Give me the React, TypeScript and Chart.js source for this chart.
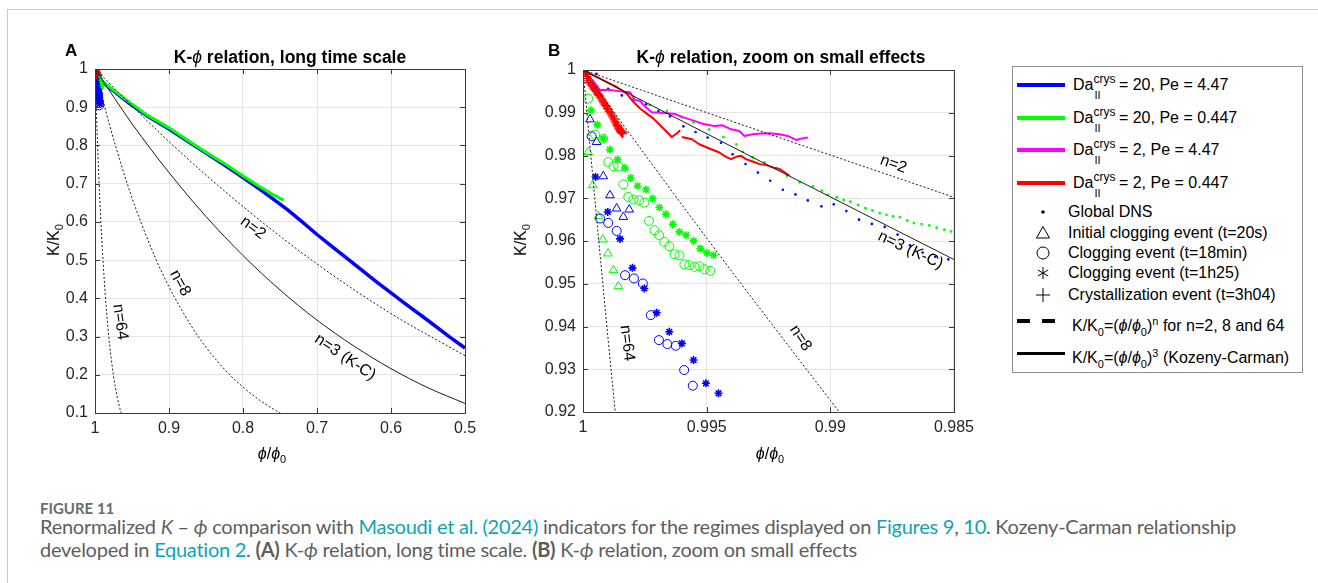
import React, { useEffect, useRef } from "react";
import { Chart, registerables } from "chart.js";

Chart.register(...registerables);

// ================= DATA =================
// Panel A reference curves K/K0 = (phi/phi0)^n
const phiA_n2 = [1, 0.9, 0.8, 0.7, 0.6, 0.5];
const kA_n2 = [1, 0.81, 0.64, 0.49, 0.36, 0.25];
const phiA_n3 = [1, 0.95, 0.9, 0.85, 0.8, 0.75, 0.7, 0.65, 0.6, 0.55, 0.5];
const kA_n3 = [1, 0.857, 0.729, 0.614, 0.512, 0.422, 0.343, 0.275, 0.216, 0.166, 0.125];
const phiA_n8 = [1, 0.98, 0.95, 0.92, 0.9, 0.87, 0.85, 0.82, 0.8, 0.78, 0.75, 0.72];
const kA_n8 = [1, 0.851, 0.663, 0.513, 0.43, 0.328, 0.272, 0.204, 0.168, 0.137, 0.1, 0.072];
const phiA_n64 = [1, 0.998, 0.995, 0.992, 0.99, 0.985, 0.98, 0.975, 0.97, 0.965, 0.96];
const kA_n64 = [1, 0.88, 0.726, 0.598, 0.526, 0.38, 0.275, 0.198, 0.142, 0.102, 0.074];

// Panel A global DNS curves
const phiA_blue = [1, 0.995, 0.99, 0.97, 0.95, 0.93, 0.9, 0.87, 0.85, 0.82, 0.8, 0.78, 0.76, 0.74, 0.72, 0.7, 0.68, 0.65, 0.62, 0.6, 0.58, 0.55, 0.52, 0.5];
const kA_blue = [1, 0.984, 0.966, 0.935, 0.905, 0.878, 0.843, 0.805, 0.78, 0.742, 0.716, 0.689, 0.661, 0.632, 0.6, 0.567, 0.536, 0.49, 0.444, 0.414, 0.385, 0.342, 0.298, 0.27];
const phiA_green = [1, 0.995, 0.99, 0.97, 0.95, 0.93, 0.9, 0.87, 0.85, 0.82, 0.8, 0.78, 0.76, 0.745];
const kA_green = [1, 0.985, 0.968, 0.937, 0.908, 0.88, 0.846, 0.807, 0.782, 0.746, 0.72, 0.695, 0.672, 0.657];

// Panel B reference curves
const phiB_n2 = [1, 0.9925, 0.985];
const kB_n2 = [1, 0.98506, 0.97023];
const phiB_n3 = [1, 0.9925, 0.985];
const kB_n3 = [1, 0.97767, 0.95567];
const phiB_n8 = [1, 0.995, 0.99, 0.989];
const kB_n8 = [1, 0.9607, 0.92274, 0.91531];
const phiB_n64 = [1, 0.9995, 0.999, 0.9985];
const kB_n64 = [1, 0.96851, 0.93798, 0.9084];

// Global DNS dots (panel B)
const phiDnsBlue = [1, 0.99945, 0.99898, 0.99843, 0.99796, 0.99745, 0.99695, 0.99648, 0.99594, 0.99545, 0.99496, 0.99442, 0.99395, 0.99343, 0.99293, 0.99243, 0.99192, 0.99141, 0.99091, 0.99036, 0.98986, 0.98935, 0.98884, 0.98832, 0.9878, 0.98728, 0.98678, 0.98627, 0.98576, 0.98523];
const kDnsBlue = [1, 0.99914, 0.99563, 0.99406, 0.99305, 0.99196, 0.9904, 0.98916, 0.98682, 0.9855, 0.9842, 0.983, 0.9803, 0.978, 0.976, 0.9741, 0.972, 0.9709, 0.9695, 0.9681, 0.9686, 0.967, 0.965, 0.964, 0.9633, 0.9615, 0.959, 0.9573, 0.9563, 0.9557];
const phiDnsGreen = [1, 0.99945, 0.9987, 0.99796, 0.9973, 0.99661, 0.996, 0.99553, 0.9949, 0.99432, 0.9938, 0.99354, 0.99314, 0.99266, 0.99219, 0.99176, 0.99124, 0.9907, 0.99034, 0.99009, 0.98973, 0.98946, 0.98919, 0.98888, 0.98858, 0.9883, 0.988, 0.98773, 0.98746, 0.98719, 0.98689, 0.98662, 0.98631, 0.986, 0.9857, 0.98539, 0.98512];
const kDnsGreen = [1, 0.9984, 0.9962, 0.9933, 0.9918, 0.9904, 0.9889, 0.9878, 0.9861, 0.9843, 0.9826, 0.98085, 0.97953, 0.97837, 0.97698, 0.97527, 0.97372, 0.97279, 0.97178, 0.97078, 0.97023, 0.96961, 0.96922, 0.96845, 0.96767, 0.96713, 0.96651, 0.96612, 0.96574, 0.96558, 0.96481, 0.96419, 0.96395, 0.96364, 0.9631, 0.96264, 0.96225];

// Da=2 curves
const phiMagenta = [1, 0.9996, 0.99931, 0.9989, 0.9985, 0.9981, 0.9979, 0.9977, 0.9975, 0.99722, 0.9969, 0.99668, 0.99628, 0.99594, 0.99553, 0.99513, 0.99469, 0.99435, 0.99401, 0.99368, 0.99347, 0.99314, 0.9928, 0.99246, 0.99205, 0.99172, 0.99138, 0.99118, 0.99091];
const kMagenta = [1, 0.9975, 0.9953, 0.9953, 0.995, 0.9948, 0.993, 0.9928, 0.9915, 0.9901, 0.99, 0.98993, 0.9897, 0.98892, 0.98815, 0.98736, 0.9869, 0.98705, 0.98612, 0.98574, 0.98457, 0.98496, 0.98512, 0.98519, 0.98496, 0.98457, 0.98364, 0.98395, 0.98419];
const phiRed = [1, 0.99985, 0.99931, 0.99864, 0.99823, 0.99796, 0.99769, 0.99742, 0.99715, 0.99688, 0.99661, 0.99641, 0.9962, 0.99607, 0.99603, 0.996, 0.9956, 0.9953, 0.99489, 0.99449, 0.99422, 0.99401, 0.99381, 0.99361, 0.99341, 0.99314, 0.99286, 0.99259, 0.99232, 0.99205, 0.99185, 0.99165];
const kRed = [1, 0.9995, 0.998, 0.996, 0.99446, 0.9925, 0.991, 0.98979, 0.98862, 0.98706, 0.9855, 0.98432, 0.9852, 0.98589, null, 0.98432, 0.9838, 0.98264, 0.98163, 0.9807, 0.97969, 0.97915, 0.97969, 0.97992, 0.97915, 0.9786, 0.97798, 0.97775, 0.97721, 0.97682, 0.97605, 0.97527];

// Event markers
const phiTriGreen = [1, 0.99979, 0.99961, 0.99938, 0.9992, 0.99899, 0.99877, 0.99857];
const kTriGreen = [1, 0.98082, 0.97304, 0.96579, 0.96035, 0.95708, 0.95318, 0.94944];
const phiTriBlue = [0.99972, 0.99945, 0.99918, 0.99891, 0.99864, 0.99837, 0.99813];
const kTriBlue = [0.98846, 0.98316, 0.97514, 0.9707, 0.9676, 0.96563, 0.96736];
const phiCircGreen = [1, 0.99979, 0.99951, 0.99918, 0.99898, 0.99877, 0.99857, 0.99837, 0.99817, 0.99796, 0.99773, 0.99752, 0.99733, 0.99711, 0.99692, 0.99671, 0.99651, 0.9963, 0.9961, 0.9959, 0.9957, 0.99549, 0.99529, 0.99509, 0.99486];
const kCircGreen = [1, 0.99329, 0.98488, 0.98394, 0.97848, 0.97748, 0.97748, 0.97327, 0.9703, 0.96969, 0.96953, 0.969, 0.9647, 0.96252, 0.96136, 0.95979, 0.95879, 0.95692, 0.95668, 0.95451, 0.95435, 0.95396, 0.95411, 0.95341, 0.95302];
const phiCircBlue = [0.99965, 0.99931, 0.99898, 0.99864, 0.9983, 0.99794, 0.99758, 0.99726, 0.99693, 0.99659, 0.99625, 0.99591, 0.99556, 0.9952, 0.9948, 0.9944];
const kCircBlue = [0.98449, 0.96526, 0.96423, 0.96236, 0.95201, 0.95124, 0.95007, 0.94266, 0.93682, 0.93589, 0.93549, 0.92981, 0.92615, 0.9175, 0.911, 0.905];
const phiStarGreen = [0.99968, 0.99942, 0.99918, 0.99891, 0.9986, 0.9983, 0.99807, 0.99779, 0.99745, 0.99719, 0.99691, 0.99665, 0.99637, 0.9961, 0.99583, 0.99553, 0.99526, 0.99499, 0.99472];
const kStarGreen = [0.99056, 0.98722, 0.98394, 0.98138, 0.97904, 0.97708, 0.97474, 0.97287, 0.97203, 0.96993, 0.96783, 0.96626, 0.96393, 0.96213, 0.96136, 0.96002, 0.95825, 0.95722, 0.95668];
const phiStarBlue = [0.99949, 0.999, 0.9985, 0.998, 0.99752, 0.99702, 0.99651, 0.996, 0.99553, 0.99503, 0.99452, 0.994, 0.9935];
const kStarBlue = [0.97498, 0.9668, 0.96049, 0.95372, 0.9489, 0.9432, 0.93876, 0.93605, 0.93215, 0.92671, 0.92437, 0.917, 0.909];
const phiPlusRed = [1, 0.99995, 0.9999, 0.99988, 0.99985, 0.99982, 0.99978, 0.99975, 0.9997, 0.99965, 0.99961, 0.99958, 0.99954, 0.9995, 0.99946, 0.99942, 0.99938, 0.99935, 0.99931, 0.99927, 0.99923, 0.9992, 0.99916, 0.99912, 0.99908, 0.99905, 0.99901, 0.99898, 0.99894, 0.9989, 0.99886, 0.99883, 0.9988, 0.99876, 0.99873, 0.9987, 0.99867, 0.99864, 0.99861, 0.99858, 0.99855, 0.99853, 0.9985, 0.99848, 0.99845, 0.99843, 0.9984, 0.99838, 0.99842, 0.99846];
const kPlusRed = [1, 0.9997, 0.9994, 0.999, 0.9985, 0.998, 0.9975, 0.9971, 0.9968, 0.9965, 0.9962, 0.9958, 0.9955, 0.9953, 0.995, 0.9946, 0.9943, 0.994, 0.9937, 0.9934, 0.993, 0.9927, 0.9923, 0.992, 0.9917, 0.9914, 0.991, 0.9907, 0.9903, 0.99, 0.9897, 0.9893, 0.989, 0.9886, 0.9883, 0.9879, 0.9876, 0.9873, 0.987, 0.9867, 0.9864, 0.9861, 0.9858, 0.9856, 0.9854, 0.9852, 0.9851, 0.9853, 0.9856, 0.9859];

// Curve labels (text, phi, K, angle in degrees)
const labelsA = [
  { text: "n=2", phi: 0.7865, k: 0.584, angle: 37 },
  { text: "n=3 (K-C)", phi: 0.662, k: 0.246, angle: 34 },
  { text: "n=8", phi: 0.885, k: 0.44, angle: 62 },
  { text: "n=64", phi: 0.966, k: 0.338, angle: 82 },
];
const labelsB = [
  { text: "n=2", phi: 0.98745, k: 0.97794, angle: 20 },
  { text: "n=3 (K-C)", phi: 0.98676, k: 0.95785, angle: 25 },
  { text: "n=8", phi: 0.99121, k: 0.93724, angle: 57 },
  { text: "n=64", phi: 0.99822, k: 0.93612, angle: 83 },
];

// ================= STYLE / HELPERS =================
const BLUE = "#0000ff";
const GREEN = "#00ff00";
const MAGENTA = "#ff00ff";
const RED = "#ff0000";
const FONT = '"Liberation Sans", Arial, Helvetica, sans-serif';
const PHI = "\u03D5";

const zip = (xs: number[], ys: (number | null)[]) => xs.map((x, i) => ({ x, y: ys[i] }));

const curve = (xs: number[], ys: number[], solid: boolean) => ({
  data: zip(xs, ys),
  showLine: true,
  borderColor: "#1a1a1a",
  borderWidth: 1,
  borderDash: solid ? [] : [2, 2],
  pointRadius: 0,
  cubicInterpolationMode: "monotone",
});
const line = (xs: number[], ys: (number | null)[], color: string, w: number) => ({
  data: zip(xs, ys),
  showLine: true,
  borderColor: color,
  borderWidth: w,
  pointRadius: 0,
  spanGaps: false,
  borderJoinStyle: "round",
});
const marks = (xs: number[], ys: number[], color: string, style: string, r: number, bw: number, filled = false) => ({
  data: zip(xs, ys),
  showLine: false,
  pointStyle: style,
  pointRadius: r,
  pointBorderColor: color,
  pointBackgroundColor: filled ? color : "rgba(0,0,0,0)",
  pointBorderWidth: bw,
});

const eventMarks = () => [
  marks(phiPlusRed, kPlusRed, RED, "cross", 4.5, 1.1),
  marks(phiStarBlue, kStarBlue, BLUE, "star", 4, 1.6),
  marks(phiStarGreen, kStarGreen, GREEN, "star", 4, 1.6),
  marks(phiCircBlue, kCircBlue, BLUE, "circle", 4.5, 1),
  marks(phiCircGreen, kCircGreen, GREEN, "circle", 4.5, 1),
  marks(phiTriBlue, kTriBlue, BLUE, "triangle", 5, 1),
  marks(phiTriGreen, kTriGreen, GREEN, "triangle", 5, 1),
];

const fmt = (v: number) => String(parseFloat(Number(v).toFixed(4)));

const framePlugin = {
  id: "frame",
  afterDatasetsDraw(chart: any, _args: any, opts: any) {
    const { ctx, chartArea: a, scales } = chart;
    ctx.save();
    ctx.strokeStyle = "#3a3a3a";
    ctx.lineWidth = 1;
    const L = 5;
    ctx.beginPath();
    scales.x.ticks.forEach((t: any) => {
      const x = Math.round(scales.x.getPixelForValue(t.value)) + 0.5;
      ctx.moveTo(x, a.bottom); ctx.lineTo(x, a.bottom - L);
      ctx.moveTo(x, a.top); ctx.lineTo(x, a.top + L);
    });
    scales.y.ticks.forEach((t: any) => {
      const y = Math.round(scales.y.getPixelForValue(t.value)) + 0.5;
      ctx.moveTo(a.left, y); ctx.lineTo(a.left + L, y);
      ctx.moveTo(a.right, y); ctx.lineTo(a.right - L, y);
    });
    ctx.stroke();
    ctx.strokeRect(Math.round(a.left) + 0.5, Math.round(a.top) + 0.5, Math.round(a.right - a.left), Math.round(a.bottom - a.top));
    (opts.labels || []).forEach((l: any) => {
      const x = scales.x.getPixelForValue(l.phi);
      const y = scales.y.getPixelForValue(l.k);
      ctx.save();
      ctx.translate(x, y);
      ctx.rotate((l.angle * Math.PI) / 180);
      ctx.font = `16px ${FONT}`;
      ctx.fillStyle = "#000";
      ctx.textAlign = "center";
      ctx.textBaseline = "middle";
      ctx.fillText(l.text, 0, 0);
      ctx.restore();
    });
    ctx.restore();
  },
};

const makeOptions = (xmin: number, xmax: number, xstep: number, ymin: number, ymax: number, ystep: number, labels: any[], padding: any, yW: number) => ({
  responsive: false,
  animation: false,
  events: [],
  layout: { padding },
  plugins: { legend: { display: false }, tooltip: { enabled: false }, frame: { labels } },
  scales: {
    x: {
      type: "linear",
      min: xmin,
      max: xmax,
      reverse: true,
      ticks: { stepSize: xstep, font: { family: FONT, size: 16 }, color: "#262626", padding: 6, maxRotation: 0, autoSkip: false, callback: fmt },
      grid: { color: "#e4e4e4", drawTicks: false },
      border: { display: false },
      afterFit: (s: any) => { s.height = 30; },
    },
    y: {
      type: "linear",
      min: ymin,
      max: ymax,
      ticks: { stepSize: ystep, font: { family: FONT, size: 16 }, color: "#262626", padding: 7, autoSkip: false, callback: fmt },
      grid: { color: "#e4e4e4", drawTicks: false },
      border: { display: false },
      afterFit: (s: any) => { s.width = yW; },
    },
  },
});

// ================= LEGEND PIECES =================
const Da = ({ rest }: { rest: string }) => (
  <span style={{ whiteSpace: "nowrap" }}>
    Da
    <span style={{ display: "inline-block", position: "relative", width: 21, height: 10 }}>
      <span style={{ position: "absolute", left: 0, top: -11, fontSize: 12 }}>crys</span>
      <span style={{ position: "absolute", left: 1, top: 5, fontSize: 11 }}>II</span>
    </span>
    {rest}
  </span>
);

const Sym = ({ kind }: { kind: string }) => (
  <svg width="16" height="16" viewBox="-8 -8 16 16" style={{ position: "absolute", left: 1035, top: -8 }}>
    {kind === "dot" && <circle r="1.8" fill="#000" />}
    {kind === "tri" && <polygon points="0,-6.5 6.5,5 -6.5,5" fill="none" stroke="#000" strokeWidth="1" />}
    {kind === "circ" && <circle r="6" fill="none" stroke="#000" strokeWidth="1" />}
    {kind === "star" && (
      <g stroke="#000" strokeWidth="1">
        <line x1="0" y1="-6" x2="0" y2="6" />
        <line x1="-5.2" y1="-3" x2="5.2" y2="3" />
        <line x1="-5.2" y1="3" x2="5.2" y2="-3" />
      </g>
    )}
    {kind === "plus" && (
      <g stroke="#000" strokeWidth="1">
        <line x1="0" y1="-7" x2="0" y2="7" />
        <line x1="-7" y1="0" x2="7" y2="0" />
      </g>
    )}
  </svg>
);

const Row = ({ y, children }: { y: number; children: any }) => (
  <div style={{ position: "absolute", left: 0, top: y, height: 0 }}>{children}</div>
);
const Txt = ({ x, children }: { x: number; children: any }) => (
  <div style={{ position: "absolute", left: x, top: -10, lineHeight: "20px", fontSize: 16, whiteSpace: "nowrap", color: "#000" }}>{children}</div>
);
const Swatch = ({ color, h = 4 }: { color: string; h?: number }) => (
  <div style={{ position: "absolute", left: 1017, top: -h / 2, width: 48, height: h, background: color }} />
);

export default function App() {
  const refA = useRef<HTMLCanvasElement>(null);
  const refB = useRef<HTMLCanvasElement>(null);

  useEffect(() => {
    const chartA = new Chart(refA.current as HTMLCanvasElement, {
      type: "scatter",
      data: {
        datasets: [
          curve(phiA_n2, kA_n2, false),
          curve(phiA_n3, kA_n3, true),
          curve(phiA_n8, kA_n8, false),
          curve(phiA_n64, kA_n64, false),
          ...eventMarks(),
          line(phiRed, kRed, RED, 2),
          line(phiMagenta, kMagenta, MAGENTA, 2),
          line(phiA_green, kA_green, GREEN, 3),
          line(phiA_blue, kA_blue, BLUE, 3.5),
        ] as any,
      },
      options: makeOptions(0.5, 1, 0.1, 0.1, 1, 0.1, labelsA, { left: 0, top: 29, right: 25, bottom: 7 }, 55) as any,
      plugins: [framePlugin],
    });
    const chartB = new Chart(refB.current as HTMLCanvasElement, {
      type: "scatter",
      data: {
        datasets: [
          curve(phiB_n2, kB_n2, false),
          curve(phiB_n3, kB_n3, true),
          curve(phiB_n8, kB_n8, false),
          curve(phiB_n64, kB_n64, false),
          ...eventMarks(),
          line(phiRed, kRed, RED, 2),
          line(phiMagenta, kMagenta, MAGENTA, 2),
          marks(phiDnsGreen, kDnsGreen, GREEN, "circle", 1.4, 0, true),
          marks(phiDnsBlue, kDnsBlue, BLUE, "circle", 1.3, 0, true),
        ] as any,
      },
      options: makeOptions(0.985, 1, 0.005, 0.92, 1, 0.01, labelsB, { left: 0, top: 30, right: 26, bottom: 8 }, 53) as any,
      plugins: [framePlugin],
    });
    return () => {
      chartA.destroy();
      chartB.destroy();
    };
  }, []);

  const link = { color: "#0aa5b8" };
  return (
    <div style={{ position: "fixed", left: 0, top: 0, width: 1318, height: 583, background: "#fff", fontFamily: FONT, overflow: "hidden" }}>
      <div style={{ position: "absolute", left: 7, top: 9, width: 1320, height: 600, borderTop: "1px solid #c9c9c9", borderLeft: "1px solid #c9c9c9" }} />
      <canvas ref={refA} width={450} height={410} style={{ position: "absolute", left: 40, top: 40 }} />
      <canvas ref={refB} width={450} height={410} style={{ position: "absolute", left: 530, top: 40 }} />

      {/* panel letters and titles */}
      <div style={{ position: "absolute", left: 65, top: 41, fontSize: 17, fontWeight: 700 }}>A</div>
      <div style={{ position: "absolute", left: 548, top: 41, fontSize: 17, fontWeight: 700 }}>B</div>
      <div style={{ position: "absolute", left: 290, top: 47, transform: "translateX(-50%)", fontSize: 17.5, fontWeight: 700, whiteSpace: "nowrap" }}>
        K-<span style={{ fontStyle: "italic", fontWeight: 400 }}>{PHI}</span> relation, long time scale
      </div>
      <div style={{ position: "absolute", left: 781, top: 47, transform: "translateX(-50%)", fontSize: 17.5, fontWeight: 700, whiteSpace: "nowrap" }}>
        K-<span style={{ fontStyle: "italic", fontWeight: 400 }}>{PHI}</span> relation, zoom on small effects
      </div>

      {/* axis titles */}
      <div style={{ position: "absolute", left: 55, top: 240, transform: "translate(-50%,-50%) rotate(-90deg)", fontSize: 16, whiteSpace: "nowrap" }}>
        K/K<sub style={{ fontSize: 11 }}>0</sub>
      </div>
      <div style={{ position: "absolute", left: 522, top: 240, transform: "translate(-50%,-50%) rotate(-90deg)", fontSize: 16, whiteSpace: "nowrap" }}>
        K/K<sub style={{ fontSize: 11 }}>0</sub>
      </div>
      <div style={{ position: "absolute", left: 272, top: 455, transform: "translate(-50%,-50%)", fontSize: 16, whiteSpace: "nowrap" }}>
        <i>{PHI}</i>/<i>{PHI}</i><sub style={{ fontSize: 11 }}>0</sub>
      </div>
      <div style={{ position: "absolute", left: 770, top: 455, transform: "translate(-50%,-50%)", fontSize: 16, whiteSpace: "nowrap" }}>
        <i>{PHI}</i>/<i>{PHI}</i><sub style={{ fontSize: 11 }}>0</sub>
      </div>

      {/* legend */}
      <div style={{ position: "absolute", left: 1012, top: 66, width: 289, height: 305, border: "1px solid #8c8c8c" }} />
      <Row y={85}><Swatch color={BLUE} /><Txt x={1073}><Da rest=" = 20, Pe = 4.47" /></Txt></Row>
      <Row y={118}><Swatch color={GREEN} /><Txt x={1073}><Da rest=" = 20, Pe = 0.447" /></Txt></Row>
      <Row y={150}><Swatch color={MAGENTA} /><Txt x={1073}><Da rest=" = 2, Pe = 4.47" /></Txt></Row>
      <Row y={183}><Swatch color={RED} /><Txt x={1073}><Da rest=" = 2, Pe = 0.447" /></Txt></Row>
      <Row y={212}><Sym kind="dot" /><Txt x={1068}>Global DNS</Txt></Row>
      <Row y={233}><Sym kind="tri" /><Txt x={1068}>Initial clogging event (t=20s)</Txt></Row>
      <Row y={253}><Sym kind="circ" /><Txt x={1068}>Clogging event (t=18min)</Txt></Row>
      <Row y={273}><Sym kind="star" /><Txt x={1068}>Clogging event (t=1h25)</Txt></Row>
      <Row y={295}><Sym kind="plus" /><Txt x={1068}>Crystallization event (t=3h04)</Txt></Row>
      <Row y={321}>
        <div style={{ position: "absolute", left: 1017, top: -2, width: 13, height: 4, background: "#000" }} />
        <div style={{ position: "absolute", left: 1042, top: -2, width: 13, height: 4, background: "#000" }} />
        <Txt x={1072}>K/K<sub style={{ fontSize: 11 }}>0</sub>=(<i>{PHI}</i>/<i>{PHI}</i><sub style={{ fontSize: 11 }}>0</sub>)<sup style={{ fontSize: 11 }}>n</sup> for n=2, 8 and 64</Txt>
      </Row>
      <Row y={353}>
        <Swatch color="#000" h={3} />
        <Txt x={1072}>K/K<sub style={{ fontSize: 11 }}>0</sub>=(<i>{PHI}</i>/<i>{PHI}</i><sub style={{ fontSize: 11 }}>0</sub>)<sup style={{ fontSize: 11 }}>3</sup> (Kozeny-Carman)</Txt>
      </Row>

      {/* caption */}
      <div style={{ position: "absolute", left: 40, top: 499, fontFamily: "Lato, sans-serif", fontSize: 15, fontWeight: 700, color: "#6b6b6b" }}>FIGURE 11</div>
      <div style={{ position: "absolute", left: 40, top: 515, width: 1270, fontFamily: "Lato, sans-serif", fontSize: 20, lineHeight: "23px", color: "#5e5e5e", whiteSpace: "nowrap", letterSpacing: -0.25 }}>
        <div>
          Renormalized <i>K</i> – <i>{PHI}</i> comparison with <span style={link}>Masoudi et al. (2024)</span> indicators for the regimes displayed on <span style={link}>Figures 9</span>, <span style={link}>10</span>. Kozeny-Carman relationship
        </div>
        <div>
          developed in <span style={link}>Equation 2</span>. <b>(A)</b> K-<i>{PHI}</i> relation, long time scale. <b>(B)</b> K-<i>{PHI}</i> relation, zoom on small effects
        </div>
      </div>
    </div>
  );
}
